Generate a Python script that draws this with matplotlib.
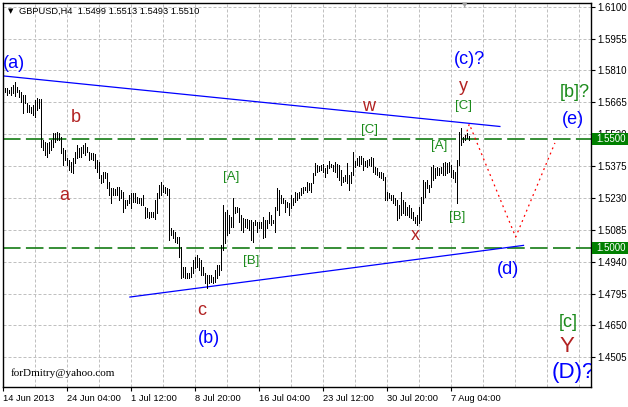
import matplotlib
matplotlib.use("Agg")
import matplotlib.pyplot as plt
from matplotlib.patches import Rectangle
import matplotlib.transforms as mtransforms

# ---------------- data ----------------
symbol_title = "GBPUSD,H4  1.5499 1.5513 1.5493 1.5510"

highs = [1.5732, 1.5729, 1.5721, 1.5736, 1.5744, 1.5759, 1.5736, 1.5721, 1.5713, 1.5698,
         1.5698, 1.5660, 1.5653, 1.5645, 1.5653, 1.5676, 1.5683, 1.5680, 1.5680, 1.5494,
         1.5486, 1.5479, 1.5486, 1.5494, 1.5524, 1.5524, 1.5531, 1.5524, 1.5509, 1.5456,
         1.5448, 1.5410, 1.5403, 1.5395, 1.5410, 1.5440, 1.5471, 1.5456, 1.5463, 1.5471,
         1.5481, 1.5463, 1.5440, 1.5433, 1.5436, 1.5430, 1.5403, 1.5395, 1.5334, 1.5349,
         1.5349, 1.5342, 1.5304, 1.5274, 1.5274, 1.5269, 1.5281, 1.5281, 1.5266, 1.5258,
         1.5220, 1.5220, 1.5243, 1.5251, 1.5251, 1.5251, 1.5236, 1.5228, 1.5228, 1.5243,
         1.5190, 1.5183, 1.5167, 1.5167, 1.5167, 1.5220, 1.5251, 1.5289, 1.5304, 1.5289,
         1.5281, 1.5274, 1.5269, 1.5092, 1.5084, 1.5076, 1.5054, 1.5054, 1.5008, 1.4917,
         1.4917, 1.4887, 1.4887, 1.4917, 1.4948, 1.4963, 1.4970, 1.4955, 1.4948, 1.4917,
         1.4887, 1.4879, 1.4879, 1.4879, 1.4872, 1.4902, 1.4925, 1.4925, 1.5016, 1.5198,
         1.5167, 1.5175, 1.5152, 1.5145, 1.5228, 1.5190, 1.5190, 1.5183, 1.5152, 1.5137,
         1.5133, 1.5133, 1.5130, 1.5130, 1.5122, 1.5130, 1.5122, 1.5122, 1.5122, 1.5145,
         1.5130, 1.5130, 1.5167, 1.5152, 1.5130, 1.5190, 1.5274, 1.5266, 1.5243, 1.5228,
         1.5220, 1.5213, 1.5205, 1.5243, 1.5228, 1.5258, 1.5251, 1.5258, 1.5274, 1.5281,
         1.5281, 1.5304, 1.5299, 1.5297, 1.5342, 1.5388, 1.5380, 1.5375, 1.5380, 1.5384,
         1.5365, 1.5380, 1.5399, 1.5384, 1.5380, 1.5395, 1.5384, 1.5380, 1.5357, 1.5327,
         1.5334, 1.5390, 1.5334, 1.5349, 1.5440, 1.5399, 1.5410, 1.5421, 1.5421, 1.5410,
         1.5399, 1.5403, 1.5406, 1.5418, 1.5410, 1.5372, 1.5365, 1.5349, 1.5349, 1.5342,
         1.5327, 1.5258, 1.5251, 1.5243, 1.5243, 1.5228, 1.5220, 1.5198, 1.5258, 1.5220,
         1.5213, 1.5190, 1.5198, 1.5183, 1.5167, 1.5145, 1.5152, 1.5190, 1.5236, 1.5312,
         1.5304, 1.5312, 1.5289, 1.5372, 1.5380, 1.5365, 1.5372, 1.5365, 1.5372, 1.5388,
         1.5395, 1.5388, 1.5395, 1.5380, 1.5357, 1.5349, 1.5403, 1.5531, 1.5548, 1.5509,
         1.5516, 1.5524, 1.5513]

lows = [1.5711, 1.5698, 1.5706, 1.5698, 1.5706, 1.5695, 1.5713, 1.5691, 1.5668, 1.5615,
        1.5660, 1.5622, 1.5622, 1.5615, 1.5607, 1.5600, 1.5630, 1.5638, 1.5463, 1.5448,
        1.5425, 1.5418, 1.5433, 1.5448, 1.5463, 1.5486, 1.5494, 1.5494, 1.5433, 1.5380,
        1.5403, 1.5380, 1.5357, 1.5349, 1.5342, 1.5388, 1.5410, 1.5418, 1.5418, 1.5433,
        1.5425, 1.5440, 1.5403, 1.5406, 1.5403, 1.5365, 1.5349, 1.5319, 1.5297, 1.5304,
        1.5319, 1.5274, 1.5243, 1.5205, 1.5243, 1.5243, 1.5243, 1.5220, 1.5228, 1.5167,
        1.5183, 1.5198, 1.5205, 1.5183, 1.5213, 1.5213, 1.5205, 1.5205, 1.5198, 1.5198,
        1.5137, 1.5145, 1.5137, 1.5142, 1.5142, 1.5133, 1.5160, 1.5228, 1.5243, 1.5258,
        1.5251, 1.5243, 1.5039, 1.5061, 1.5046, 1.5031, 1.5024, 1.4963, 1.4864, 1.4872,
        1.4864, 1.4864, 1.4864, 1.4872, 1.4887, 1.4910, 1.4917, 1.4902, 1.4879, 1.4879,
        1.4842, 1.4819, 1.4842, 1.4849, 1.4842, 1.4849, 1.4864, 1.4879, 1.4902, 1.4993,
        1.5024, 1.5061, 1.5069, 1.5099, 1.5099, 1.5160, 1.5167, 1.5122, 1.5084, 1.5076,
        1.5099, 1.5092, 1.5084, 1.5039, 1.5031, 1.5107, 1.5076, 1.5092, 1.5092, 1.5046,
        1.5054, 1.5092, 1.5114, 1.5107, 1.5114, 1.5076, 1.5175, 1.5152, 1.5205, 1.5205,
        1.5167, 1.5190, 1.5152, 1.5183, 1.5198, 1.5213, 1.5220, 1.5228, 1.5243, 1.5251,
        1.5266, 1.5258, 1.5266, 1.5258, 1.5297, 1.5334, 1.5349, 1.5354, 1.5357, 1.5349,
        1.5327, 1.5342, 1.5365, 1.5369, 1.5354, 1.5349, 1.5324, 1.5312, 1.5289, 1.5304,
        1.5308, 1.5297, 1.5266, 1.5297, 1.5334, 1.5372, 1.5380, 1.5375, 1.5384, 1.5357,
        1.5375, 1.5372, 1.5380, 1.5375, 1.5349, 1.5339, 1.5334, 1.5327, 1.5319, 1.5312,
        1.5220, 1.5220, 1.5228, 1.5220, 1.5205, 1.5198, 1.5130, 1.5137, 1.5152, 1.5160,
        1.5152, 1.5152, 1.5145, 1.5137, 1.5130, 1.5114, 1.5107, 1.5114, 1.5130, 1.5205,
        1.5236, 1.5274, 1.5258, 1.5281, 1.5312, 1.5319, 1.5334, 1.5334, 1.5342, 1.5334,
        1.5334, 1.5342, 1.5349, 1.5327, 1.5319, 1.5304, 1.5205, 1.5380, 1.5471, 1.5486,
        1.5494, 1.5501, 1.5493]

time_labels = ["14 Jun 2013", "24 Jun 04:00", "1 Jul 12:00", "8 Jul 20:00",
               "16 Jul 04:00", "23 Jul 12:00", "30 Jul 20:00", "7 Aug 04:00"]
time_label_bars = [-1, 31, 63, 95, 127, 159, 191, 223]

price_ticks = [1.6100, 1.5955, 1.5810, 1.5665, 1.5520, 1.5375, 1.5230,
               1.5085, 1.4940, 1.4795, 1.4650, 1.4505]
levels = [1.5500, 1.5000]

# trend lines (bar index, price)
upper_line_x = [-1, 247.3]
upper_line_y = [1.5785, 1.5555]
lower_line_x = [62.3, 259.1]
lower_line_y = [1.4779, 1.5014]
# forecast path
proj_x = [230.0, 232.0, 255.2, 274.8]
proj_y = [1.5508, 1.5566, 1.5052, 1.5480]

# wave labels: (text, bar x, price, color, size)
BLUE = "#0000ff"
BROWN = "#b22222"
GREEN = "#1a8a1a"
wave_labels = [
    ("(a)", 4.4, 1.5842, BLUE, 13),
    ("b", 35.4, 1.5594, BROWN, 13),
    ("a", 29.4, 1.5241, BROWN, 13),
    ("c", 98.4, 1.4720, BROWN, 13),
    ("(b)", 101.6, 1.4590, BLUE, 13),
    ("[A]", 112.9, 1.5327, GREEN, 9.5),
    ("[B]", 122.9, 1.4943, GREEN, 9.5),
    ("w", 181.4, 1.5648, BROWN, 13),
    ("[C]", 182.1, 1.5539, GREEN, 9.5),
    ("x", 204.9, 1.5057, BROWN, 13),
    ("[A]", 216.9, 1.5464, GREEN, 9.5),
    ("[B]", 225.9, 1.5145, GREEN, 9.5),
    ("(c)?", 231.9, 1.5858, BLUE, 13),
    ("y", 228.9, 1.5739, BROWN, 13),
    ("[C]", 229.1, 1.5646, GREEN, 9.5),
    ("(d)", 251.6, 1.4902, BLUE, 13),
    ("[b]?", 284.9, 1.5710, GREEN, 13),
    ("(e)", 283.6, 1.5589, BLUE, 13),
    ("[c]", 281.6, 1.4663, GREEN, 13),
    ("Y", 280.9, 1.4552, BROWN, 16),
]

AXFONT = "Liberation Sans"
XSIZE = 6.7
YSIZE = 7.0

# ---------------- figure ----------------
W, H = 628, 407
fig = plt.figure(figsize=(W / 100, H / 100), dpi=100)
fig.patch.set_facecolor("white")
left_px, right_px, top_px, bot_px = 3.3, 591.0, 3.0, 387.3
ax = fig.add_axes([left_px / W, (H - bot_px) / H, (right_px - left_px) / W, (bot_px - top_px) / H])
ax.set_facecolor("white")

xmin = -1.0
xmax = xmin + (right_px - left_px) / 2.0
ax.set_xlim(xmin, xmax)
ax.set_ylim(1.43683, 1.61168)

# grid
grid_kw = dict(color="#c0c0c0", lw=0.72, linestyle=(0, (3, 2)), zorder=0)
for p in price_ticks:
    ax.axhline(p, **grid_kw)
gx = time_label_bars[0]
while gx < xmax:
    ax.axvline(gx, **grid_kw)
    gx += 16

# level lines
for lv in levels:
    ax.axhline(lv, color="#007000", lw=1.1, linestyle=(0, (11.5, 3.5)), zorder=1)

# bars
xs = list(range(len(highs)))
ax.vlines(xs, lows, highs, colors="black", linewidth=0.72, antialiased=False, zorder=3)

# trend lines
ax.plot(upper_line_x, upper_line_y, color="#0000ff", lw=0.9, zorder=2)
ax.plot(lower_line_x, lower_line_y, color="#0000ff", lw=0.9, zorder=2)
# forecast
ax.plot(proj_x, proj_y, color="red", lw=0.9, linestyle=(0, (1.5, 3)), zorder=2)

# wave labels
for txt, x, y, c, s in wave_labels:
    ax.text(x, y, txt, color=c, fontsize=s, ha="center", va="center",
            family="Liberation Sans", zorder=4)
ax.text(273.4, 1.4436, "(D)?", color=BLUE, fontsize=16, ha="left", va="center",
        family="Liberation Sans", zorder=4, clip_on=True)

# axes styling
for sp in ax.spines.values():
    sp.set_color("black")
    sp.set_linewidth(1.0)
ax.yaxis.tick_right()
ax.set_yticks(price_ticks)
ax.set_yticklabels([f"{p:.4f}" for p in price_ticks])
ax.set_xticks(time_label_bars)
ax.set_xticklabels(time_labels)
for lab in ax.get_xticklabels() + ax.get_yticklabels():
    lab.set_family(AXFONT)
for lab in ax.get_xticklabels():
    lab.set_horizontalalignment("left")
ax.tick_params(axis="y", direction="out", length=3, width=0.8, labelsize=YSIZE, pad=1.5, colors="black")
ax.tick_params(axis="x", direction="out", length=3, width=0.8, labelsize=XSIZE, pad=2, colors="black")

# level price boxes on the right axis
blend = mtransforms.blended_transform_factory(ax.transAxes, ax.transData)
box_w = 37 / (right_px - left_px)
box_h = 12 * 0.000455
for lv in levels:
    ax.add_patch(Rectangle((1.002, lv - box_h / 2), box_w, box_h, transform=blend,
                           facecolor="#008000", edgecolor="none", clip_on=False, zorder=10))
    ax.text(1.009, lv, f"{lv:.4f}", transform=blend, color="white", fontsize=YSIZE,
            family=AXFONT, ha="left", va="center", clip_on=False, zorder=11)

# title and watermark
fig.text(8 / W, 1 - 11 / H, "\u25bc", fontsize=5, color="black", ha="left", va="center")
fig.text(19 / W, 1 - 11 / H, symbol_title, fontsize=XSIZE, family=AXFONT, color="black",
         ha="left", va="center")
fig.text(465 / W, 1 - 5 / H, "\u25bc", fontsize=5, color="#a0a0a0", ha="center", va="center")
fig.text(11 / W, 1 - 373 / H, "forDmitry@yahoo.com", fontsize=8, color="black",
         family="Liberation Serif", ha="left", va="center")

fig.savefig("out.png", dpi=100, facecolor="white")
